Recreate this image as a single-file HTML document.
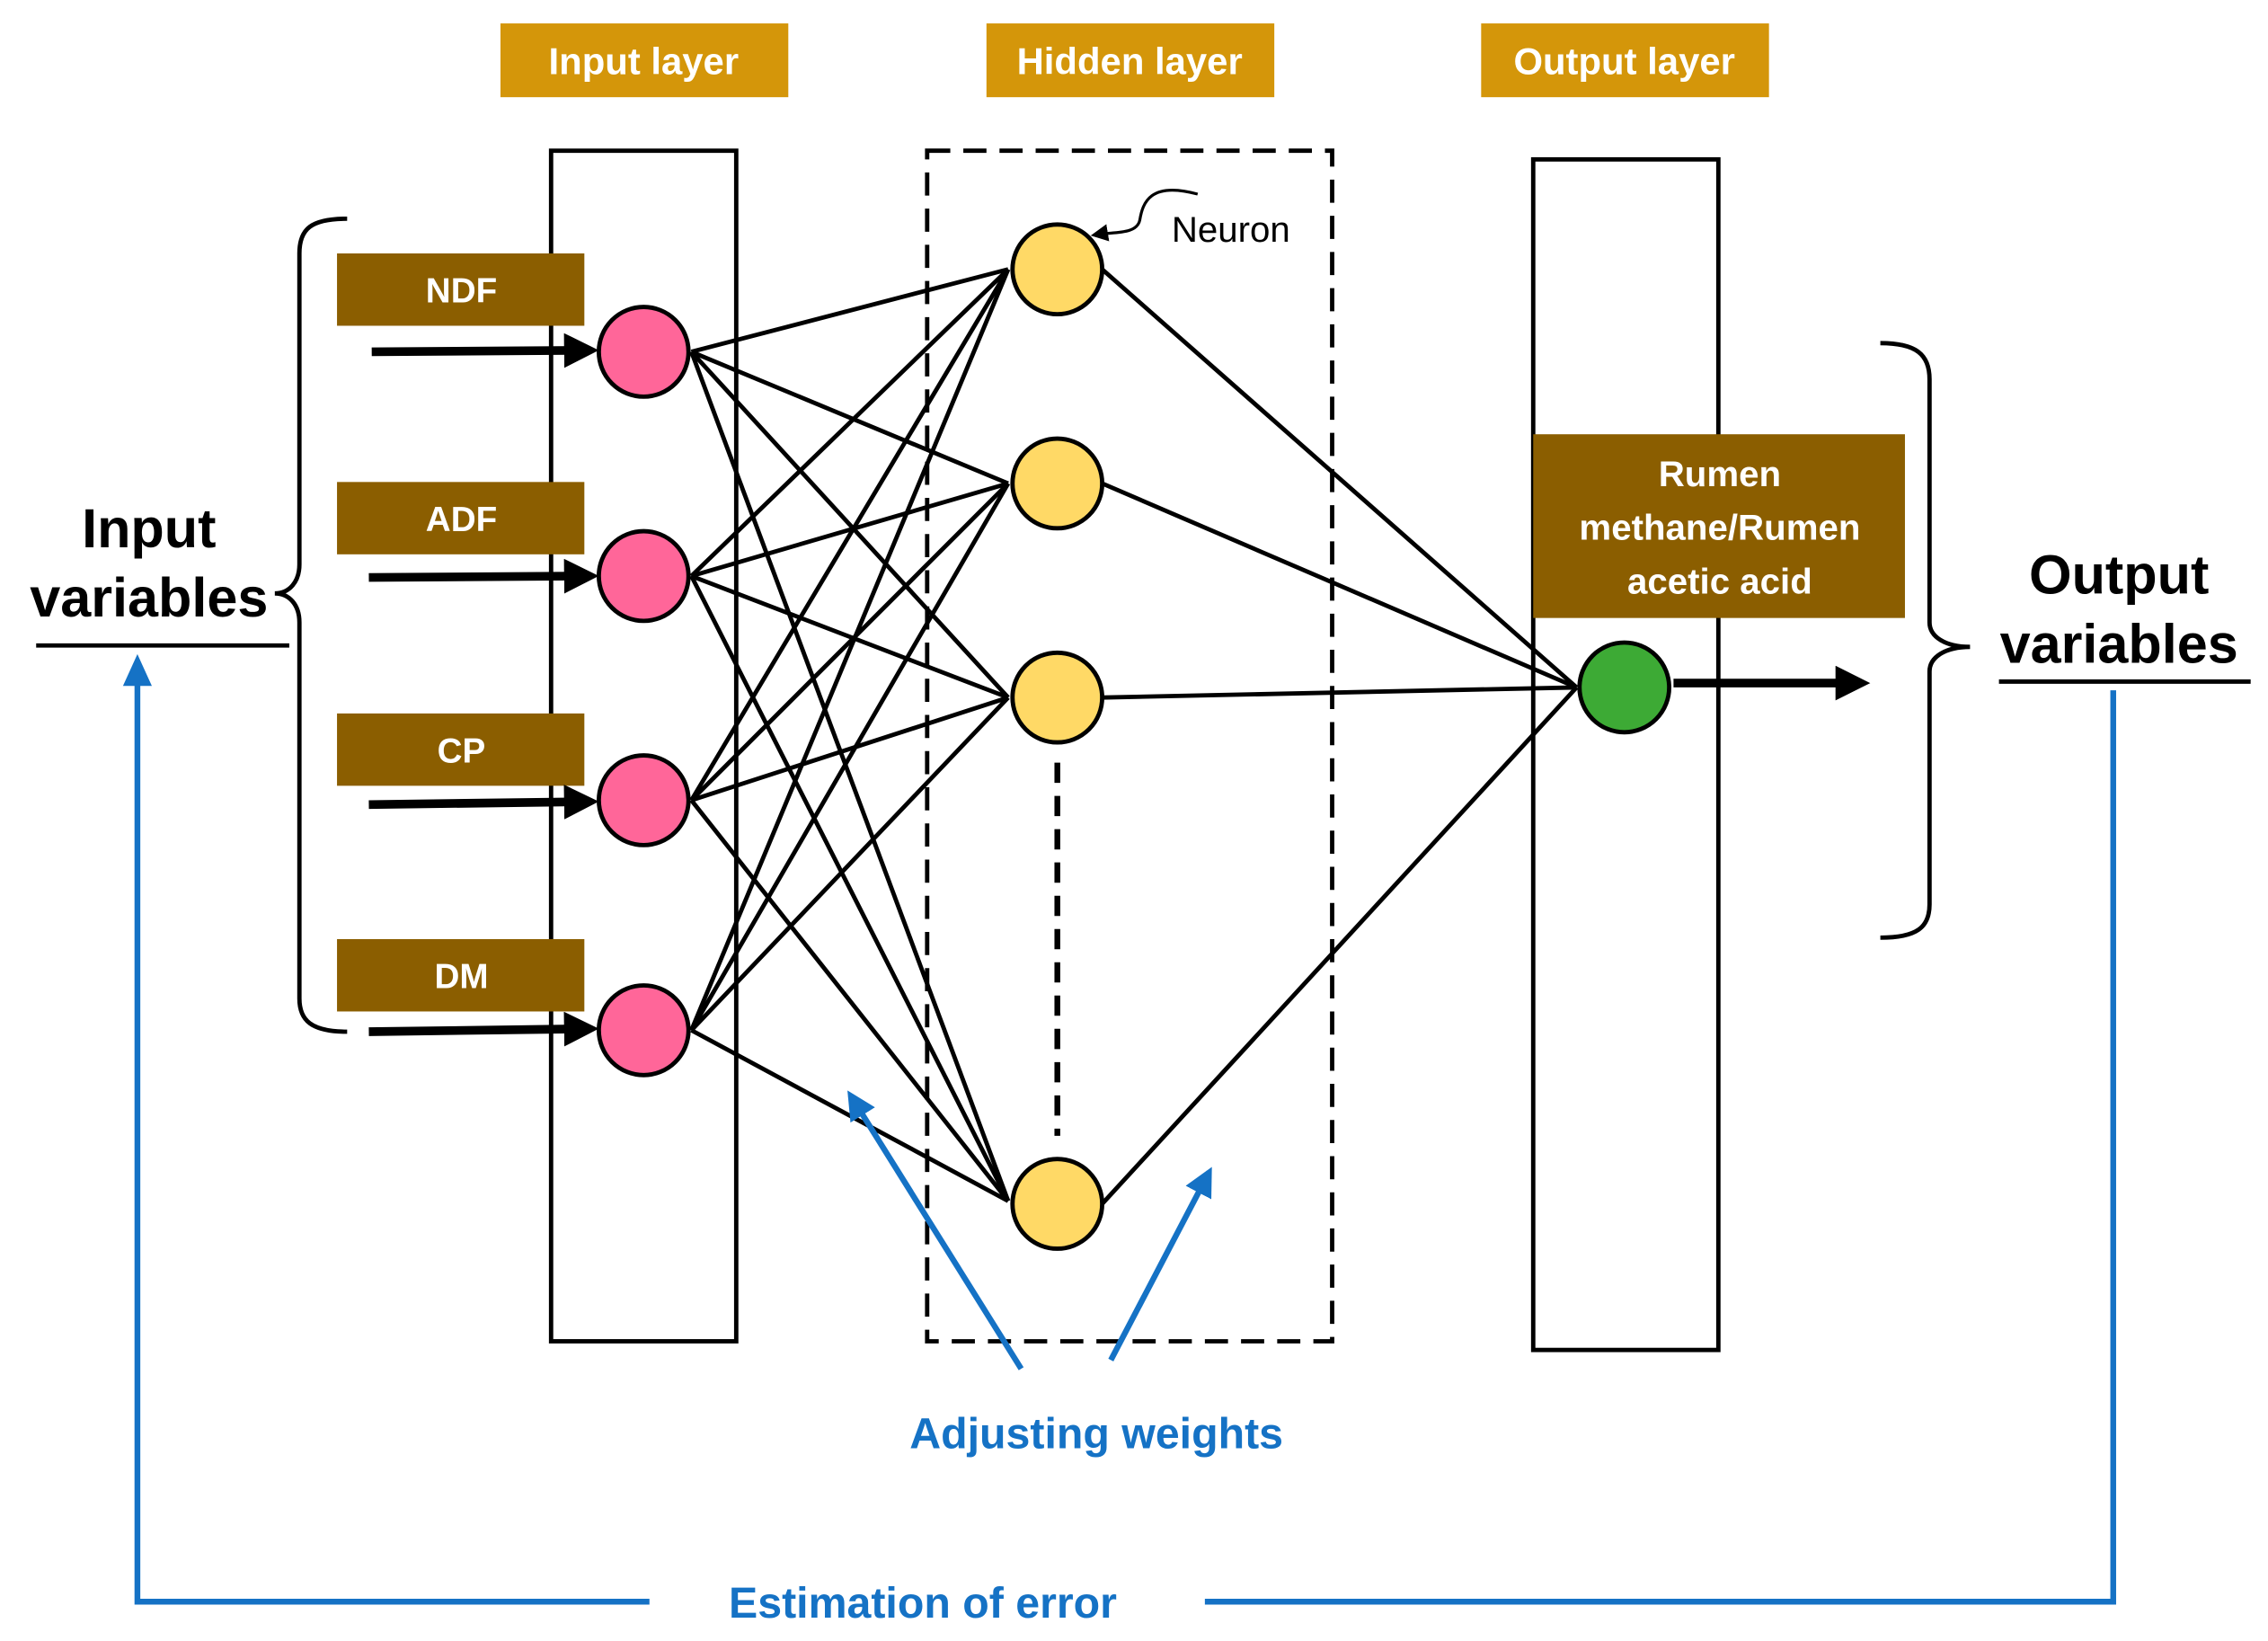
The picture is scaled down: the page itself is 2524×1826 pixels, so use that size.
<!DOCTYPE html>
<html><head><meta charset="utf-8"><style>
html,body{margin:0;padding:0;background:#fff;}
svg{display:block;}
text{font-family:"Liberation Sans","DejaVu Sans",sans-serif;}
</style></head><body>
<svg width="2524" height="1826" viewBox="0 0 1568 1134" xmlns="http://www.w3.org/2000/svg">
<defs>
<marker id="ab" markerWidth="4" markerHeight="4" refX="2.5" refY="2" orient="auto" markerUnits="strokeWidth"><path d="M0,0 L4,2 L0,4 z" fill="#000"/></marker>
<marker id="abl" markerWidth="5" markerHeight="5" refX="4" refY="2.5" orient="auto" markerUnits="strokeWidth"><path d="M0,0 L5,2.5 L0,5 z" fill="#1572C5"/></marker>
<marker id="an" markerWidth="6" markerHeight="6" refX="4" refY="3" orient="auto" markerUnits="strokeWidth"><path d="M0,0 L6,3 L0,6 z" fill="#000"/></marker>
</defs>
<rect x="346" y="16" width="199" height="51" fill="#D4960A"/>
<text x="445" y="51" font-size="26" font-weight="bold" fill="#fff" text-anchor="middle">Input layer</text>
<rect x="682" y="16" width="199" height="51" fill="#D4960A"/>
<text x="781" y="51" font-size="26" font-weight="bold" fill="#fff" text-anchor="middle">Hidden layer</text>
<rect x="1024" y="16" width="199" height="51" fill="#D4960A"/>
<text x="1123" y="51" font-size="26" font-weight="bold" fill="#fff" text-anchor="middle">Output  layer</text>
<rect x="381" y="104" width="128" height="823" fill="none" stroke="#000" stroke-width="3"/>
<rect x="641" y="104" width="280" height="823" fill="none" stroke="#000" stroke-width="3" stroke-dasharray="16,9"/>
<rect x="1060" y="110" width="128" height="823" fill="none" stroke="#000" stroke-width="3"/>
<g stroke="#000" stroke-width="3">
<line x1="478" y1="243" x2="697" y2="186"/><line x1="478" y1="243" x2="697" y2="334"/><line x1="478" y1="243" x2="697" y2="482"/><line x1="478" y1="243" x2="697" y2="830"/>
<line x1="478" y1="398" x2="697" y2="186"/><line x1="478" y1="398" x2="697" y2="334"/><line x1="478" y1="398" x2="697" y2="482"/><line x1="478" y1="398" x2="697" y2="830"/>
<line x1="478" y1="553" x2="697" y2="186"/><line x1="478" y1="553" x2="697" y2="334"/><line x1="478" y1="553" x2="697" y2="482"/><line x1="478" y1="553" x2="697" y2="830"/>
<line x1="478" y1="712" x2="697" y2="186"/><line x1="478" y1="712" x2="697" y2="334"/><line x1="478" y1="712" x2="697" y2="482"/><line x1="478" y1="712" x2="697" y2="830"/>
<line x1="762" y1="186" x2="1090" y2="475"/><line x1="762" y1="334" x2="1090" y2="475"/><line x1="762" y1="482" x2="1090" y2="475"/><line x1="762" y1="832" x2="1090" y2="475"/>
</g>
<line x1="731" y1="527" x2="731" y2="785" stroke="#000" stroke-width="4" stroke-dasharray="14,9"/>
<g fill="#8B5E00">
<rect x="233" y="175" width="171" height="50"/><rect x="233" y="333" width="171" height="50"/>
<rect x="233" y="493" width="171" height="50"/><rect x="233" y="649" width="171" height="50"/>
</g>
<g font-size="24" font-weight="bold" fill="#fff" text-anchor="middle">
<text x="319" y="209">NDF</text><text x="319" y="367">ADF</text><text x="319" y="527">CP</text><text x="319" y="683">DM</text>
</g>
<g stroke="#000" stroke-width="6" marker-end="url(#ab)">
<line x1="257" y1="243" x2="405" y2="242"/><line x1="255" y1="399" x2="405" y2="398"/>
<line x1="255" y1="556" x2="405" y2="554"/><line x1="255" y1="713" x2="405" y2="711"/>
<line x1="1157" y1="472" x2="1284" y2="472"/>
</g>
<g stroke="#000" stroke-width="3">
<circle cx="445" cy="243" r="31" fill="#FF6699"/><circle cx="445" cy="398" r="31" fill="#FF6699"/>
<circle cx="445" cy="553" r="31" fill="#FF6699"/><circle cx="445" cy="712" r="31" fill="#FF6699"/>
<circle cx="731" cy="186" r="31" fill="#FFD966"/><circle cx="731" cy="334" r="31" fill="#FFD966"/>
<circle cx="731" cy="482" r="31" fill="#FFD966"/><circle cx="731" cy="832" r="31" fill="#FFD966"/>
<circle cx="1123" cy="475" r="31" fill="#3DAA35"/>
</g>
<rect x="1060" y="300" width="257" height="127" fill="#8B5E00"/>
<g font-size="25" font-weight="bold" fill="#fff" text-anchor="middle">
<text x="1189" y="336">Rumen</text><text x="1189" y="373">methane/Rumen</text><text x="1189" y="410">acetic acid</text>
</g>
<text x="810" y="167" font-size="25" fill="#000">Neuron</text>
<path d="M828,134 C795,125 790,140 788,152 C786,162 770,160 758,162" fill="none" stroke="#000" stroke-width="2" marker-end="url(#an)"/>
<path d="M240,151 C215,151 207,158 207,175 L207,390 C207,402 200,410 190,410 C200,410 207,418 207,430 L207,690 C207,705 215,713 240,713" fill="none" stroke="#000" stroke-width="3"/>
<path d="M1300,237 C1325,237 1334,245 1334,262 L1334,430 C1334,440 1345,447 1362,447 C1345,447 1334,454 1334,464 L1334,625 C1334,641 1325,648 1300,648" fill="none" stroke="#000" stroke-width="3"/>
<g font-size="38" font-weight="bold" fill="#000" text-anchor="middle">
<text x="103" y="378">Input</text><text x="103" y="426">variables</text>
<text x="1465" y="410">Output</text><text x="1465" y="458">variables</text>
</g>
<line x1="25" y1="446" x2="200" y2="446" stroke="#000" stroke-width="3"/>
<line x1="1382" y1="471" x2="1556" y2="471" stroke="#000" stroke-width="3"/>
<g stroke="#1572C5" stroke-width="4" fill="none">
<polyline points="449,1107 95,1107 95,470"/>
<polyline points="833,1107 1461,1107 1461,477"/>
<line x1="706" y1="946" x2="588" y2="757" marker-end="url(#abl)"/>
<line x1="768" y1="940" x2="836" y2="810" marker-end="url(#abl)"/>
</g>
<path d="M95,452 L85,474 L105,474 z" fill="#1572C5"/>
<text x="638" y="1118" font-size="30" font-weight="bold" fill="#1572C5" text-anchor="middle">Estimation of error</text>
<text x="758" y="1001" font-size="30" font-weight="bold" fill="#1572C5" text-anchor="middle">Adjusting weights</text>
</svg>
</body></html>
